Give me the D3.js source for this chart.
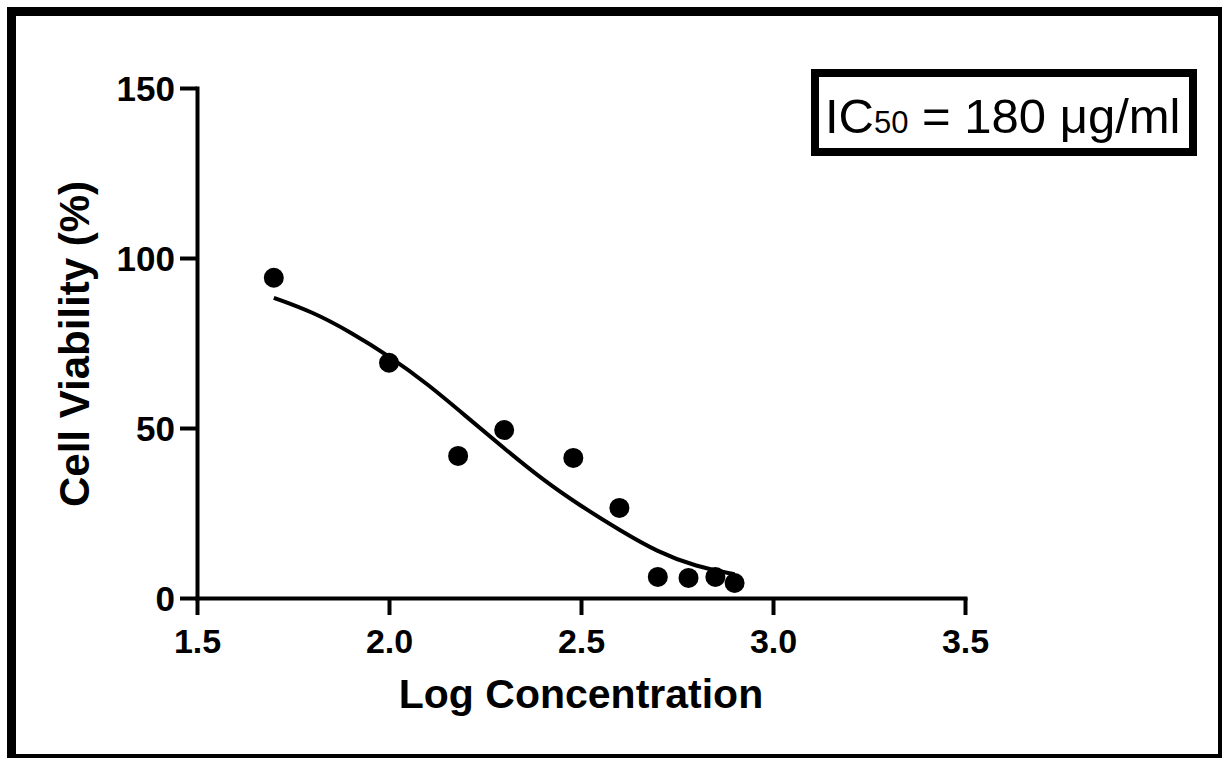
<!DOCTYPE html>
<html>
<head>
<meta charset="utf-8">
<script src="https://cdn.jsdelivr.net/npm/d3@7"></script>
<style>
  html, body { margin: 0; padding: 0; background: #fff; }
  svg { display: block; }
  text { font-family: "Liberation Sans", Arial, sans-serif; fill: #000; }
</style>
</head>
<body>
<svg id="chart" width="1222" height="758"></svg>
<script>
// ---- Data ----
const logConc = [1.70, 2.00, 2.18, 2.30, 2.48, 2.60, 2.70, 2.78, 2.85, 2.90];
const viability = [94.2, 69.2, 41.8, 49.4, 41.2, 26.5, 6.2, 5.9, 6.2, 4.4];

const fitX = [1.70, 1.80, 1.90, 2.00, 2.10, 2.20, 2.30, 2.40, 2.50, 2.60, 2.70, 2.80, 2.90];
const fitY = [88.3, 84.2, 78.2, 71.2, 63.0, 53.5, 44.0, 34.8, 27.0, 20.0, 13.5, 9.2, 7.0];

const xTicks = [1.5, 2.0, 2.5, 3.0, 3.5];
const yTicks = [0, 50, 100, 150];

const xTitle = "Log Concentration";
const yTitle = "Cell Viability (%)";

// ---- Layout ----
const svg = d3.select("#chart");
const W = 1222, H = 758;

svg.append("rect").attr("x", 0).attr("y", 0).attr("width", W).attr("height", H).attr("fill", "#fff");

// outer frame
svg.append("rect")
  .attr("x", 11.5).attr("y", 11.5)
  .attr("width", 1211).attr("height", 747)
  .attr("fill", "none").attr("stroke", "#000").attr("stroke-width", 9);

const x = d3.scaleLinear().domain([1.5, 3.5]).range([197, 965]);
const y = d3.scaleLinear().domain([0, 150]).range([598, 88]);

// x axis
const gx = svg.append("g").attr("transform", `translate(0,${y(0)})`)
  .call(d3.axisBottom(x).tickValues(xTicks).tickFormat(d3.format(".1f")).tickSize(17).tickSizeOuter(0));
gx.select(".domain").attr("stroke-width", 4).attr("stroke-linecap", "square");
gx.selectAll(".tick line").attr("stroke-width", 4);
gx.selectAll(".tick text")
  .attr("y", 55).attr("dy", 0)
  .style("font-size", "34px").style("font-weight", "bold");

// y axis
const gy = svg.append("g").attr("transform", `translate(${x(1.5)},0)`)
  .call(d3.axisLeft(y).tickValues(yTicks).tickSize(17).tickSizeOuter(0));
gy.select(".domain").attr("stroke-width", 4).attr("stroke-linecap", "square");
gy.selectAll(".tick line").attr("stroke-width", 4);
gy.selectAll(".tick text")
  .attr("x", -22).attr("dy", "0.36em")
  .style("font-size", "35px").style("font-weight", "bold");

svg.selectAll(".domain, .tick line").attr("stroke", "#000");
svg.selectAll(".tick text").attr("fill", "#000");

// titles
svg.append("text")
  .attr("x", (x(1.5) + x(3.5)) / 2).attr("y", 708)
  .attr("text-anchor", "middle")
  .style("font-size", "41px").style("font-weight", "bold")
  .text(xTitle);

svg.append("text")
  .attr("transform", `translate(89,${(y(0) + y(150)) / 2 + 1}) rotate(-90)`)
  .attr("text-anchor", "middle")
  .style("font-size", "42px").style("font-weight", "bold")
  .text(yTitle);

// fitted curve
const fit = fitX.map((d, i) => [d, fitY[i]]);
svg.append("path")
  .datum(fit)
  .attr("fill", "none").attr("stroke", "#000").attr("stroke-width", 4)
  .attr("d", d3.line().x(d => x(d[0])).y(d => y(d[1])).curve(d3.curveBasis));

// data points
svg.append("g").selectAll("circle")
  .data(logConc.map((d, i) => [d, viability[i]]))
  .join("circle")
  .attr("cx", d => x(d[0])).attr("cy", d => y(d[1]))
  .attr("r", 10).attr("fill", "#000");

// IC50 box
svg.append("rect")
  .attr("x", 815).attr("y", 73).attr("width", 378).attr("height", 79)
  .attr("fill", "#fff").attr("stroke", "#000").attr("stroke-width", 8);

const t = svg.append("text").attr("x", 825).attr("y", 133).style("font-size", "49px");
t.append("tspan").text("IC");
t.append("tspan").style("font-size", "31px").text("50");
t.append("tspan").text(" = 180 \u03BCg/ml");
</script>
</body>
</html>
